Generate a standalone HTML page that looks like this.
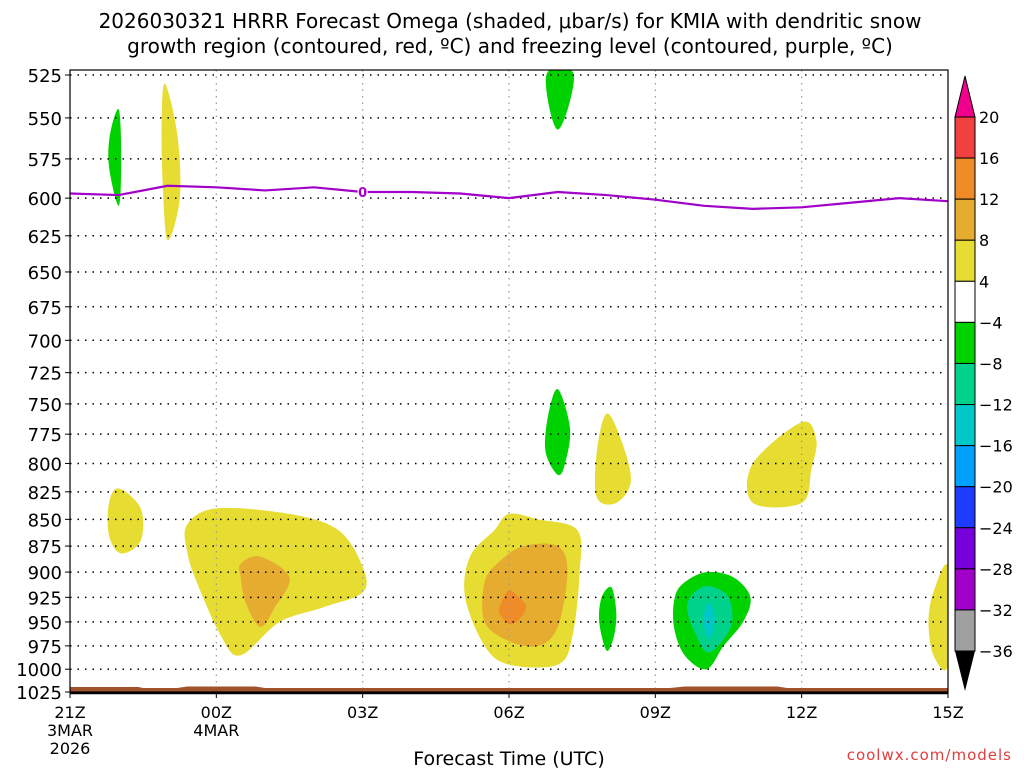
<!DOCTYPE html>
<html><head><meta charset="utf-8"><style>
body{margin:0;background:#fff;width:1024px;height:768px;overflow:hidden;font-family:"Liberation Sans","DejaVu Sans",sans-serif}
svg text{font-family:"DejaVu Sans","Liberation Sans",sans-serif}
</style></head><body>
<svg id="c" width="1024" height="768" viewBox="0 0 1024 768" xmlns="http://www.w3.org/2000/svg">
<text x="510" y="28" font-size="20" text-anchor="middle">2026030321 HRRR Forecast Omega (shaded, μbar/s) for KMIA with dendritic snow</text>
<text x="510" y="53" font-size="20" text-anchor="middle">growth region (contoured, red, ºC) and freezing level (contoured, purple, ºC)</text>
<text x="509" y="765" font-size="19" text-anchor="middle">Forecast Time (UTC)</text>
<text x="1012" y="760" font-size="15" fill="#e03c3c" text-anchor="end" letter-spacing="1">coolwx.com/models</text>
<g id="plot"></g>
</svg>
<script>
const pTicks=[525,550,575,600,625,650,675,700,725,750,775,800,825,850,875,900,925,950,975,1000,1025];
const xTickHours=[0,3,6,9,12,15,18];
const xTickLabels=["21Z","00Z","03Z","06Z","09Z","12Z","15Z"];
const freezeHours=[0,1,2,3,4,5,6,7,8,9,10,11,12,13,14,15,16,17,18];
const freezeP=[597,598,592,593,595,593,596,596,597,600,596,598,601,605,607,606,603,600,602];
const cbLevels=["20","16","12","8","4","−4","−8","−12","−16","−20","−24","−28","−32","−36"];
const cbColors=["#f04040","#f08c28","#e5ac30","#e6dc32","#ffffff","#00d200","#00d28c","#00c8c8","#00a0ff","#1e3cff","#7800dc","#a000c8","#a0a0a0"];
// omega blobs: [color, hours[], pressures[]]
const blobs=[
["#e6dc32",[1.95,2.2,2.25,2.0,1.9,1.88],[530,560,600,628,590,550]],
["#00d200",[1.0,1.05,1.0,0.8,0.82],[545,575,605,580,560]],
["#00d200",[9.8,10.3,10.25,10.0,9.8],[523,523,540,557,540]],
["#e6dc32",[1.0,1.45,1.45,1.05,0.8,0.8],[822,840,870,882,865,835]],
["#e6dc32",[2.4,3.0,4.5,5.5,6.0,6.0,5.2,4.3,3.5,3.1,2.6,2.4],[855,840,845,860,895,920,935,950,985,965,910,880]],
["#e5ac30",[3.5,3.9,4.5,4.2,3.9,3.6,3.5],[892,885,905,935,955,930,905]],
["#e6dc32",[8.7,9.0,9.6,10.4,10.45,10.3,10.0,9.0,8.5,8.1,8.2],[860,845,850,860,900,965,995,995,975,925,885]],
["#e5ac30",[8.8,9.3,10.0,10.2,10.0,9.6,9.0,8.5,8.5],[890,875,875,900,955,975,970,950,910]],
["#f08c28",[9.0,9.2,9.35,9.2,9.0,8.8,8.85],[918,925,935,948,952,940,930]],
["#00d200",[10.0,10.25,10.15,10.0,9.75,9.8],[738,770,800,810,790,760]],
["#e6dc32",[11.0,11.3,11.5,11.2,10.8,10.8],[758,780,815,835,830,790]],
["#00d200",[11.1,11.2,11.15,11.0,10.85,10.9],[915,940,965,980,950,925]],
["#00d200",[13.05,13.6,13.95,13.8,13.4,13.05,12.6,12.38,12.4,12.6],[900,905,925,950,975,1000,985,955,925,910]],
["#00d28c",[13.1,13.5,13.55,13.1,12.8,12.65,12.8],[914,925,955,982,960,935,920]],
["#00c8c8",[13.1,13.22,13.1,12.98],[930,948,968,948]],
["#e6dc32",[14.0,15.0,15.3,15.2,15.0,14.0],[800,765,780,805,835,835]],
["#e6dc32",[18,18,17.7,17.6,17.7],[895,995,985,950,920]]
];
const X0=70,X1=948,Y0=75,Y1=692;
const x=h=>X0+(X1-X0)*h/18;
const y=p=>Y0+(Y1-Y0)*(Math.log(p)-Math.log(525))/(Math.log(1025)-Math.log(525));
const NS="http://www.w3.org/2000/svg";
const g=document.getElementById('plot');
function mk(t,a,parent){const e=document.createElementNS(NS,t);for(const k in a)e.setAttribute(k,a[k]);(parent||g).appendChild(e);return e;}
const defs=mk('defs',{});const cp=mk('clipPath',{id:'pc'},defs);mk('rect',{x:X0,y:70,width:X1-X0,height:Y1-70},cp);
const sg=mk('g',{'clip-path':'url(#pc)'});
function smooth(pts){let d='';const n=pts.length;for(let i=0;i<n;i++){const p0=pts[(i-1+n)%n],p1=pts[i],p2=pts[(i+1)%n],p3=pts[(i+2)%n];if(i==0)d+='M'+p1[0]+','+p1[1];const c1=[p1[0]+(p2[0]-p0[0])/6,p1[1]+(p2[1]-p0[1])/6],c2=[p2[0]-(p3[0]-p1[0])/6,p2[1]-(p3[1]-p1[1])/6];d+='C'+c1+' '+c2+' '+p2;}return d+'Z';}
blobs.forEach((b,i)=>{const pts=b[1].map((h,j)=>[x(h).toFixed(1),y(b[2][j]).toFixed(1)].map(Number));
const e=mk('path',{d:smooth(pts),fill:b[0]},sg);

});
pTicks.forEach(p=>{const l=mk('line',{x1:X0,x2:X1,y1:y(p),y2:y(p),stroke:'#000','stroke-width':1.5,'stroke-dasharray':'1.5 6'});


const t=mk('text',{x:62,y:y(p)+7,'font-size':18,'text-anchor':'end'});t.textContent=p;


mk('line',{x1:X0-5,x2:X0,y1:y(p),y2:y(p),stroke:'#000'});});
xTickHours.forEach((h,i)=>{if(i>0&&i<6){const l=mk('line',{x1:x(h),x2:x(h),y1:70,y2:Y1,stroke:'#999','stroke-width':1.2,'stroke-dasharray':'1.5 5'});

}
mk('line',{x1:x(h),x2:x(h),y1:Y1,y2:Y1+6,stroke:'#000'});
const t=mk('text',{x:x(h),y:718,'font-size':16,'text-anchor':'middle'});t.textContent=xTickLabels[i];

});
[["3MAR",x(0),736],["2026",x(0),754],["4MAR",x(3),736]].forEach(a=>{const t=mk('text',{x:a[1],y:a[2],'font-size':16,'text-anchor':'middle'});t.textContent=a[0];

});
const gr=mk('path',{d:`M${X0},687 L${x(1.4)},687 L${x(1.5)},688 L${x(2.2)},688 L${x(2.4)},686.5 L${x(3.8)},686.5 L${x(4)},688 L${x(12.3)},688 L${x(12.6)},686.5 L${x(14.5)},686.5 L${x(14.7)},688 L${X1},688 L${X1},${Y1} L${X0},${Y1}Z`,fill:'#a0522d'});


const fl=mk('polyline',{points:freezeHours.map((h,i)=>x(h)+','+y(freezeP[i])).join(' '),fill:'none',stroke:'#a000c8','stroke-width':2.2});


const fr=mk('rect',{x:x(6)-5,y:y(freezeP[6])-8,width:10,height:16,fill:'#fff'});
const ft=mk('text',{x:x(6),y:y(freezeP[6])+5,'font-size':13,fill:'#a000c8','text-anchor':'middle','font-weight':'bold'});ft.textContent='0';


mk('rect',{x:X0,y:70,width:X1-X0,height:Y1-70,fill:'none',stroke:'#000','stroke-width':1.2});
mk('line',{x1:X0,x2:X1,y1:Y1+1,y2:Y1+1,stroke:'#000','stroke-width':2.5});
const cx0=955,cx1=975,cy0=117,ch=(651-117)/13;
const tri=mk('polygon',{points:`${cx0},${cy0} ${cx1},${cy0} ${(cx0+cx1)/2},76`,fill:'#f0008c',stroke:'#000'});


cbColors.forEach((c,i)=>{const r=mk('rect',{x:cx0,y:cy0+i*ch,width:cx1-cx0,height:ch,fill:c,stroke:'#000'});

});
const tb=mk('polygon',{points:`${cx0},651 ${cx1},651 ${(cx0+cx1)/2},691`,fill:'#000'});


cbLevels.forEach((s,i)=>{const t=mk('text',{x:979,y:cy0+i*ch+6,'font-size':16});t.textContent=s;

});
</script>
</body></html>
